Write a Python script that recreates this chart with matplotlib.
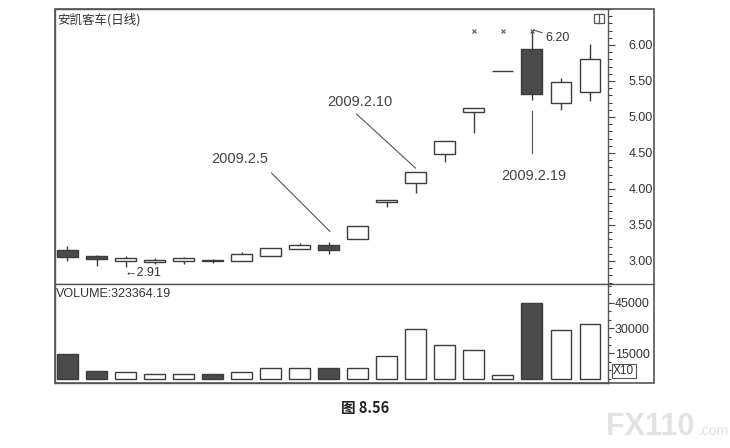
import matplotlib
matplotlib.use("Agg")
import matplotlib.pyplot as plt
from matplotlib.patches import Rectangle
from matplotlib.lines import Line2D
from matplotlib.ticker import MultipleLocator, FixedLocator

# -----------------------------
# data
# -----------------------------
opens  = [3.15, 3.07, 3.00, 2.98, 3.00, 3.01, 3.00, 3.07, 3.17, 3.22,
          3.30, 3.82, 4.08, 4.49, 5.07, 5.64, 5.94, 5.19, 5.35]
closes = [3.06, 3.03, 3.04, 3.01, 3.04, 3.00, 3.09, 3.18, 3.22, 3.15,
          3.49, 3.85, 4.24, 4.67, 5.13, 5.64, 5.32, 5.49, 5.81]
highs  = [3.21, 3.08, 3.07, 3.04, 3.06, 3.03, 3.12, 3.18, 3.25, 3.27,
          3.49, 3.85, 4.24, 4.67, 5.13, 5.64, 6.20, 5.54, 6.01]
lows   = [3.00, 2.93, 2.91, 2.96, 2.96, 2.97, 3.00, 3.07, 3.16, 3.10,
          3.30, 3.75, 3.95, 4.37, 4.78, 5.64, 5.24, 5.10, 5.22]
volumes = [14800, 4600, 3800, 2800, 2800, 3000, 4200, 6600, 6200, 6600,
           6200, 13200, 29200, 20000, 16800, 2200, 44600, 28800, 32336]

price_ticks = [3.00, 3.50, 4.00, 4.50, 5.00, 5.50, 6.00]
vol_ticks = [15000, 30000, 45000]

# x markers above candles 15-17
mark_idx = [14, 15, 16]
mark_price = 6.19

title = "安凯客车(日线)"
vol_label = "VOLUME:323364.19"
caption = "图 8.56"

# date notes: text, text pos, leader line (from, to)
notes = [
    ("2009.2.5", (5.94, 4.42), (7.03, 4.22), (9.04, 3.41)),
    ("2009.2.10", (10.07, 5.21), (9.96, 5.04), (11.99, 4.29)),
    ("2009.2.19", (16.07, 4.18), (16.0, 5.08), (16.0, 4.50)),
]

# -----------------------------
# layout (pixels of a 730x448 canvas)
# -----------------------------
W, H = 730, 448
L, R, RR = 55, 608, 654   # plot left, axis line, outer right
T, MID, B = 9, 284, 382.7

def fx(px):
    return px / W

def fy(py):
    return 1 - py / H

dark = "#4a4a4a"
edge = "#3c3c3c"
txt = "#333333"
num_font = ["Liberation Sans", "DejaVu Sans"]
cjk_font = ["Noto Sans CJK SC", "DejaVu Sans"]

fig = plt.figure(figsize=(W / 100, H / 100), dpi=100)
fig.patch.set_facecolor("white")

ax = fig.add_axes([fx(L), fy(MID), fx(R - L), (MID - T) / H])
axv = fig.add_axes([fx(L), fy(B), fx(R - L), (B - MID) / H])

n = len(opens)
xs = list(range(n))
xlim = (-0.43, 18.62)
cw = 0.72

# -----------------------------
# price candles
# -----------------------------
for i in xs:
    o, c, h, l = opens[i], closes[i], highs[i], lows[i]
    lo_b, hi_b = min(o, c), max(o, c)
    ax.vlines(i, l, lo_b, color=edge, lw=1.0, zorder=2)
    ax.vlines(i, hi_b, h, color=edge, lw=1.0, zorder=2)
    face = dark if c < o else "white"
    ax.bar(i, hi_b - lo_b, bottom=lo_b, width=cw, color=face,
           edgecolor=edge, linewidth=1.0, zorder=3)

ax.plot(mark_idx, [mark_price] * len(mark_idx), linestyle="none",
        marker="x", markersize=3.5, color="#555555", mew=0.8, zorder=4)

for label, (tx, ty), (x0, y0), (x1, y1) in notes:
    ax.text(tx, ty, label, ha="center", va="center", fontsize=10.5,
            color="#444444", family=num_font)
    ax.plot([x0, x1], [y0, y1], color="#555555", lw=0.8, zorder=1)

# high / low labels
hi_i = highs.index(max(highs))
lo_i = lows.index(min(lows))
ax.annotate(f"{max(highs):.2f}", xy=(hi_i + 0.05, max(highs) + 0.01),
            xytext=(hi_i + 0.45, 6.10), fontsize=9, color=txt,
            family=num_font, va="center",
            arrowprops=dict(arrowstyle="-", color="#555555", lw=0.8,
                            shrinkA=0, shrinkB=0))
ax.text(lo_i - 0.02, 2.83, f"←{min(lows):.2f}", fontsize=9, color=txt,
        family=num_font, va="center", ha="left")

ax.text(0.004, 0.985, title, transform=ax.transAxes, ha="left", va="top",
        fontsize=9, color=txt, family=cjk_font)

ax.set_xlim(*xlim)
ax.set_ylim(2.68, 6.5)
ax.yaxis.tick_right()
ax.yaxis.set_major_locator(FixedLocator(price_ticks))
ax.yaxis.set_minor_locator(MultipleLocator(0.1))
ax.set_yticklabels([f"{v:.2f}" for v in price_ticks])
ax.tick_params(axis="y", which="major", length=5, width=0.8, pad=10,
               colors="#444444", labelsize=9)
ax.tick_params(axis="y", which="minor", length=3, width=0.8, colors="#444444")
ax.set_xticks([])
for lab in ax.get_yticklabels():
    lab.set_family(num_font)
    lab.set_color(txt)

# -----------------------------
# volume bars
# -----------------------------
vcolors = [dark if closes[i] < opens[i] else "white" for i in xs]
axv.bar(xs, volumes, width=cw, color=vcolors, edgecolor=edge,
        linewidth=1.0, zorder=3)
axv.set_xlim(*xlim)
axv.set_ylim(-2370, 56150)
axv.yaxis.tick_right()
axv.yaxis.set_major_locator(FixedLocator(vol_ticks))
axv.yaxis.set_minor_locator(MultipleLocator(5000))
axv.set_yticklabels([str(v) for v in vol_ticks])
axv.tick_params(axis="y", which="major", length=4, width=0.8, pad=1,
                colors="#444444", labelsize=9)
axv.tick_params(axis="y", which="minor", length=2.5, width=0.8,
                colors="#444444")
axv.set_xticks([])
for lab in axv.get_yticklabels():
    lab.set_family(num_font)
    lab.set_color(txt)
axv.text(0.002, 0.96, vol_label, transform=axv.transAxes, ha="left",
         va="top", fontsize=9, color=txt, family=num_font)

for a in (ax, axv):
    for s in a.spines.values():
        s.set_color("#555555")
        s.set_linewidth(1.0)

# outer frame, divider, X10 box, pane icon
fig.patches.append(Rectangle((fx(L), fy(B)), fx(RR - L), (B - T) / H,
                             transform=fig.transFigure, fill=False,
                             edgecolor="#555555", lw=1.2))
fig.lines.append(Line2D([fx(R), fx(RR)], [fy(MID), fy(MID)],
                        transform=fig.transFigure, color="#555555", lw=1.0))
fig.text(fx(613), fy(371), "X10", fontsize=8.5, color=txt, family=num_font,
         va="center", ha="left",
         bbox=dict(boxstyle="square,pad=0.12", fc="white", ec="#555555",
                   lw=0.8))
fig.patches.append(Rectangle((fx(594), fy(23)), fx(10), 9 / H,
                             transform=fig.transFigure, fill=False,
                             edgecolor="#555555", lw=0.9))
fig.lines.append(Line2D([fx(599), fx(599)], [fy(23), fy(14)],
                        transform=fig.transFigure, color="#555555", lw=0.9))

# caption and watermark
fig.text(fx(365), fy(408), caption, ha="center", va="center", fontsize=10.5,
         fontweight="bold", color="#222222", family=cjk_font)
fig.text(fx(606), fy(435), "FX110", ha="left", va="baseline", fontsize=22,
         fontweight="bold", color="#e2e2e2", family=num_font)
fig.text(fx(699), fy(435), ".com", ha="left", va="baseline", fontsize=10,
         color="#e2e2e2", family=num_font)

fig.savefig("out.png", dpi=100, facecolor="white")
